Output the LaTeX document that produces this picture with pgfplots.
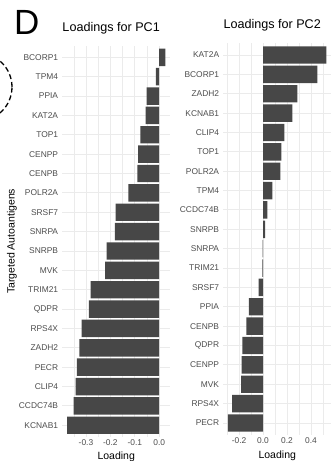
\documentclass[border=0pt]{standalone}
\usepackage{pgfplots}
\pgfplotsset{compat=1.18}
\usepackage{pgfplotstable}
\usepackage{fontspec}
\setmainfont{Liberation Sans}
\definecolor{barc}{HTML}{474747}
\definecolor{gridc}{HTML}{EBEBEB}
\definecolor{tickc}{HTML}{4D4D4D}

% position (0 = bottom row), loading
\pgfplotstableread{
p v
0 -0.377
1 -0.351
2 -0.342
3 -0.337
4 -0.327
5 -0.318
6 -0.288
7 -0.281
8 -0.222
9 -0.215
10 -0.182
11 -0.179
12 -0.126
13 -0.089
14 -0.086
15 -0.077
16 -0.056
17 -0.052
18 -0.014
19 0.025
}\pcone

\pgfplotstableread{
p v
0 -0.292
1 -0.258
2 -0.183
3 -0.178
4 -0.172
5 -0.139
6 -0.117
7 -0.036
8 -0.005
9 -0.003
10 0.017
11 0.036
12 0.078
13 0.144
14 0.153
15 0.178
16 0.244
17 0.286
18 0.453
19 0.528
}\pctwo

\pgfplotsset{
 panel/.style={
  scale only axis, width=107.9pt, height=391.2pt, anchor=south west,
  xbar, bar width=0.9,
  ymin=-0.6, ymax=19.6, ytick={0,...,19},
  axis line style={draw=none}, major tick length=0pt, minor tick length=0pt,
  grid=both,
  major grid style={draw=gridc, line width=0.9pt},
  minor grid style={draw=gridc, line width=0.45pt},
  yticklabel style={font=\fontsize{8.4}{9}\selectfont, text=tickc, inner sep=0pt, xshift=-4pt},
  xticklabel style={font=\fontsize{8.4}{9}\selectfont, text=tickc, inner sep=0pt, anchor=north, yshift=-3pt},
  title style={at={(axis description cs:0,1)}, anchor=base west, inner sep=0pt, font=\fontsize{12.6}{14}\selectfont, yshift=8.5pt},
  xlabel=Loading,
 }
}

\begin{document}
\begin{tikzpicture}
\path[use as bounding box] (0,0) rectangle (335pt,461pt);
\begin{scope}
\clip (0,0) rectangle (335pt,461pt);
\draw[dash pattern=on 5pt off 3pt, line width=1.3pt] (-22pt,374pt) circle (34pt);
\end{scope}
\node[anchor=base west, inner sep=0pt] at (14pt,426pt) {\fontsize{35}{35}\selectfont D};

\begin{axis}[panel, at={(62.3pt,24.1pt)},
  xmin=-0.397, xmax=0.045,
  xtick={-0.3,-0.2,-0.1,0}, xticklabels={-0.3,-0.2,-0.1,0.0},
  minor xtick={-0.35,-0.25,-0.15,-0.05},
  yticklabels={KCNAB1,CCDC74B,CLIP4,PECR,ZADH2,RPS4X,QDPR,TRIM21,MVK,SNRPB,SNRPA,SRSF7,POLR2A,CENPB,CENPP,TOP1,KAT2A,PPIA,TPM4,BCORP1},
  title={Loadings for PC1},
  xlabel style={at={(axis description cs:0.5,0)}, anchor=base, inner sep=0pt, font=\fontsize{10.5}{12}\selectfont, yshift=-22.3pt},
  ylabel={Targeted Autoantigens},
  ylabel style={at={(axis description cs:-0.443,0.5)}, anchor=base, inner sep=0pt, font=\fontsize{10.5}{12}\selectfont},
]
\addplot[fill=barc, draw=none] table[x=v, y=p] {\pcone};
\end{axis}

\begin{axis}[panel, at={(223.3pt,26.4pt)},
  xmin=-0.331, xmax=0.568,
  xtick={-0.2,0,0.2,0.4}, xticklabels={-0.2,0.0,0.2,0.4},
  minor xtick={-0.3,-0.1,0.1,0.3,0.5},
  yticklabels={PECR,RPS4X,MVK,CENPP,QDPR,CENPB,PPIA,SRSF7,TRIM21,SNRPA,SNRPB,CCDC74B,TPM4,POLR2A,TOP1,CLIP4,KCNAB1,ZADH2,BCORP1,KAT2A},
  title={Loadings for PC2},
  xlabel style={at={(axis description cs:0.5,0)}, anchor=base, inner sep=0pt, font=\fontsize{10.5}{12}\selectfont, yshift=-23.6pt},
]
\addplot[fill=barc, draw=none] table[x=v, y=p] {\pctwo};
\end{axis}
\end{tikzpicture}
\end{document}
